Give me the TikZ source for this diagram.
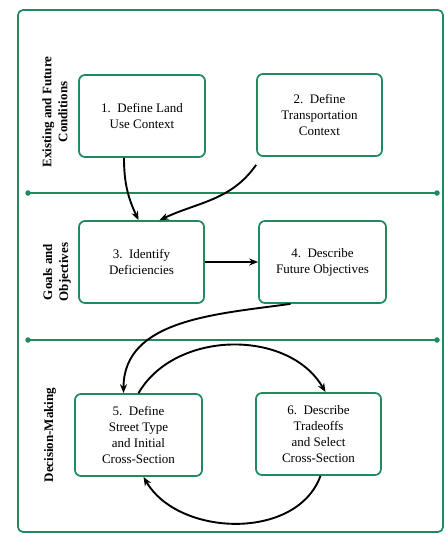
\documentclass[tikz,border=0pt]{standalone}
\usepackage{fontspec}
\setmainfont{Liberation Serif}
\usetikzlibrary{arrows.meta,calc}
\definecolor{frame}{RGB}{30,138,94}
\begin{document}
\begin{tikzpicture}[x=1pt,y=-1pt,
  stepbox/.style={draw=frame,line width=1.7pt,rounded corners=6pt,minimum width=125pt,minimum height=82pt,align=center,font=\fontsize{13}{16}\selectfont,inner sep=2pt},
  sidelabel/.style={rotate=90,align=center,font=\bfseries\fontsize{13}{16}\selectfont},
  flow/.style={line width=1.9pt,-{Stealth[length=9pt,width=7pt]}},
  sep/.style={draw=frame,line width=1.7pt},
  dotend/.style={circle,fill=frame,inner sep=0pt,minimum size=5.5pt}]
\useasboundingbox (0,0) rectangle (445,535);
\draw[frame,line width=1.7pt,rounded corners=5pt] (18,10) rectangle (443,532);
% separators
\node[dotend] (s1l) at (28,193) {};
\node[dotend] (s1r) at (437,193) {};
\node[dotend] (s2l) at (28,340) {};
\node[dotend] (s2r) at (437,340) {};
\draw[sep] (s1l.center) -- (s1r.center);
\draw[sep] (s2l.center) -- (s2r.center);
% side labels
\node[sidelabel] (l1) at (55,112) {Existing and Future\\Conditions};
\node[sidelabel] (l2) at (57,272) {Goals and\\Objectives};
\node[sidelabel] (l3) at (50,435) {Decision-Making};
% boxes
\node[stepbox,minimum width=126pt] (b1) at (142,116) {1.\ \ Define Land\\Use Context};
\node[stepbox] (b2) at (319.5,115) {2.\ \ Define\\Transportation\\Context};
\node[stepbox] (b3) at (141.5,262) {3.\ \ Identify\\Deficiencies};
\node[stepbox,minimum width=127pt] (b4) at (322.5,262) {4.\ \ Describe\\Future Objectives};
\node[stepbox,minimum width=127pt] (b5) at (138.5,435) {5.\ \ Define\\Street Type\\and Initial\\Cross-Section};
\node[stepbox] (b6) at (318.5,434) {6.\ \ Describe\\Tradeoffs\\and Select\\Cross-Section};
% arrows
\draw[flow] ([xshift=-18pt]b1.south) to[out=-90,in=115] ([xshift=-3pt]b3.north);
\draw[flow] ([yshift=-8pt]b2.south west) to[out=-125,in=25] ([xshift=18pt]b3.north);
\draw[flow] (b3.east) -- (b4.west);
\draw[flow] ([xshift=-32pt]b4.south) to[out=-172,in=90] ([xshift=-15pt]b5.north);
\draw[flow] (b5.north) to[out=60,in=120] ([xshift=7pt]b6.north);
\draw[flow] ([xshift=2pt]b6.south) to[out=-110,in=-60] ([xshift=5pt]b5.south);
\end{tikzpicture}
\end{document}
